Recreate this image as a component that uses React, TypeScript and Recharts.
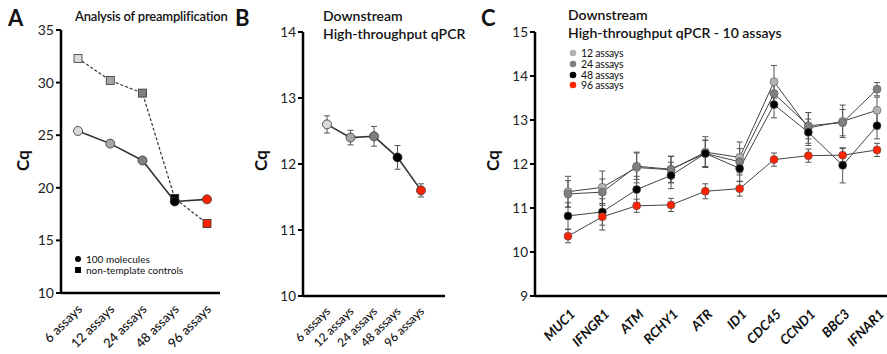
import React from 'react'
import { LineChart, Line, XAxis, YAxis, ErrorBar } from 'recharts'

// panel A + B categories
const assayCats = ['6 assays', '12 assays', '24 assays', '48 assays', '96 assays']
const assayColors = ['#d9d9d9', '#a6a6a6', '#7f7f7f', '#000000', '#ff2200']

// A: preamplification
const preampMolecules = [25.4, 24.2, 22.6, 18.7, 18.9]
const preampNtc = [32.3, 30.2, 29.0, 19.0, 16.6]
const ticksA = [10, 15, 20, 25, 30, 35]

// B: downstream
const downstreamCq = [12.6, 12.4, 12.42, 12.1, 11.6]
const downstreamErr = [0.13, 0.11, 0.15, 0.18, 0.1]
const ticksB = [10, 11, 12, 13, 14]

// C: 10 assays
const genes = ['MUC1', 'IFNGR1', 'ATM', 'RCHY1', 'ATR', 'ID1', 'CDC45', 'CCND1', 'BBC3', 'IFNAR1']
const cq12 = [11.37, 11.47, 11.92, 11.87, 12.27, 12.15, 13.87, 12.82, 12.97, 13.22]
const cq24 = [11.32, 11.36, 11.95, 11.88, 12.24, 12.05, 13.6, 12.87, 12.94, 13.7]
const cq48 = [10.82, 10.91, 11.42, 11.74, 12.24, 11.9, 13.35, 12.72, 11.97, 12.87]
const cq96 = [10.36, 10.8, 11.05, 11.07, 11.38, 11.44, 12.1, 12.19, 12.2, 12.32]
const err12 = [0.35, 0.37, 0.35, 0.3, 0.35, 0.35, 0.37, 0.35, 0.37, 0.3]
const err24 = [0.3, 0.3, 0.3, 0.3, 0.3, 0.3, 0.3, 0.3, 0.3, 0.15]
const err48 = [0.3, 0.3, 0.3, 0.3, 0.3, 0.3, 0.3, 0.3, 0.4, 0.3]
const err96 = [0.15, 0.3, 0.15, 0.15, 0.17, 0.17, 0.15, 0.15, 0.15, 0.15]
const ticksC = [9, 10, 11, 12, 13, 14, 15]
const seriesC = [
  { key: 'c12', err: 'e12', name: '12 assays', color: '#b3b3b3' },
  { key: 'c24', err: 'e24', name: '24 assays', color: '#808080' },
  { key: 'c48', err: 'e48', name: '48 assays', color: '#000000' },
  { key: 'c96', err: 'e96', name: '96 assays', color: '#ff2200' },
]

const dataA = assayCats.map((c, i) => ({ cat: c, mol: preampMolecules[i], ntc: preampNtc[i] }))
const dataB = assayCats.map((c, i) => ({ cat: c, cq: downstreamCq[i], err: downstreamErr[i] }))
const dataC = genes.map((g, i) => ({
  gene: g,
  c12: cq12[i], e12: err12[i],
  c24: cq24[i], e24: err24[i],
  c48: cq48[i], e48: err48[i],
  c96: cq96[i], e96: err96[i],
}))

const FONT = 'Lato, "Open Sans", sans-serif'
const axisLine = { stroke: '#000', strokeWidth: 2.5 }
const tickLine = { stroke: '#000', strokeWidth: 2 }

const RotTick = (dx: number, dy: number, size: number, italic = false) => (props: any) => {
  const { x, y, payload } = props
  return (
    <g transform={`translate(${x + dx},${y + dy})`}>
      <text
        x={0}
        y={0}
        textAnchor="end"
        transform="rotate(-45)"
        fontSize={size}
        fontFamily={FONT}
        fontStyle={italic ? 'italic' : 'normal'}
        fontWeight={italic ? 700 : 500}
        fill="#111"
      >
        {payload.value}
      </text>
    </g>
  )
}

const colorDot = (prefix: string) => (props: any) => (
  <circle
    key={`${prefix}-${props.index}`}
    cx={props.cx}
    cy={props.cy}
    r={4.5}
    fill={assayColors[props.index]}
    stroke="#333"
    strokeWidth={0.8}
  />
)

const squareDot = (props: any) => (
  <rect
    key={`sq-${props.index}`}
    x={props.cx - 4}
    y={props.cy - 4}
    width={8}
    height={8}
    fill={assayColors[props.index]}
    stroke="#333"
    strokeWidth={0.8}
  />
)

const abs = (left: number, top: number, extra: React.CSSProperties = {}): React.CSSProperties => ({
  position: 'absolute',
  left,
  top,
  fontFamily: FONT,
  color: '#111',
  whiteSpace: 'nowrap',
  ...extra,
})

const CqLabel = ({ left, top }: { left: number; top: number }) => (
  <div style={abs(left, top, { fontSize: 17, fontWeight: 700, transform: 'rotate(-90deg)', transformOrigin: 'center' })}>Cq</div>
)

export default function App() {
  return (
    <div style={{ position: 'absolute', left: 0, top: 0, width: 887, height: 354, background: '#fff', overflow: 'hidden' }}>
      {/* Panel A */}
      <div style={{ position: 'absolute', left: 0, top: 0 }}>
        <LineChart width={230} height={354} data={dataA} margin={{ top: 30, right: 10, bottom: 0, left: 0 }}>
          <XAxis
            dataKey="cat"
            axisLine={axisLine}
            tickLine={false}
            height={61}
            padding={{ left: 17, right: 13 }}
            interval={0}
            tick={RotTick(5, 9, 13)}
          />
          <YAxis
            domain={[10, 35]}
            ticks={ticksA}
            width={61}
            axisLine={axisLine}
            tickLine={tickLine}
            tickSize={5}
            tick={{ fontSize: 14, fill: '#222', fontFamily: FONT }}
          />
          <Line
            dataKey="ntc"
            stroke="#333"
            strokeWidth={1.2}
            strokeDasharray="3 2"
            dot={squareDot}
            activeDot={false}
            isAnimationActive={false}
          />
          <Line
            dataKey="mol"
            stroke="#333"
            strokeWidth={1.6}
            dot={colorDot('mol')}
            activeDot={false}
            isAnimationActive={false}
          />
        </LineChart>
      </div>

      {/* Panel B */}
      <div style={{ position: 'absolute', left: 240, top: 0 }}>
        <LineChart width={205} height={354} data={dataB} margin={{ top: 32, right: 0, bottom: 0, left: 0 }}>
          <XAxis
            dataKey="cat"
            axisLine={axisLine}
            tickLine={false}
            height={58}
            padding={{ left: 24, right: 24 }}
            interval={0}
            tick={RotTick(4, 8, 12)}
          />
          <YAxis
            domain={[10, 14]}
            ticks={ticksB}
            width={63}
            axisLine={axisLine}
            tickLine={tickLine}
            tickSize={5}
            tick={{ fontSize: 13.5, fill: '#222', fontFamily: FONT }}
          />
          <Line
            dataKey="cq"
            stroke="#333"
            strokeWidth={1.6}
            dot={colorDot('b')}
            activeDot={false}
            isAnimationActive={false}
          >
            <ErrorBar dataKey="err" direction="y" width={3} stroke="#555" strokeWidth={1} />
          </Line>
        </LineChart>
      </div>

      {/* Panel C */}
      <div style={{ position: 'absolute', left: 460, top: 0 }}>
        <LineChart width={427} height={354} data={dataC} margin={{ top: 32, right: 0, bottom: 0, left: 0 }}>
          <XAxis
            dataKey="gene"
            axisLine={axisLine}
            tickLine={false}
            height={58}
            padding={{ left: 33, right: 10 }}
            interval={0}
            tick={RotTick(8, 11, 13.5, true)}
          />
          <YAxis
            domain={[9, 15]}
            ticks={ticksC}
            width={75}
            axisLine={axisLine}
            tickLine={tickLine}
            tickSize={5}
            tick={{ fontSize: 13.5, fill: '#222', fontFamily: FONT }}
          />
          {seriesC.map((s) => (
            <Line
              key={s.key}
              dataKey={s.key}
              name={s.name}
              stroke="#444"
              strokeWidth={1}
              dot={{ r: 4, fill: s.color, stroke: '#555', strokeWidth: 0.6 }}
              activeDot={false}
              isAnimationActive={false}
            >
              <ErrorBar dataKey={s.err} direction="y" width={3} stroke="#555" strokeWidth={1} />
            </Line>
          ))}
        </LineChart>
      </div>

      {/* text overlays */}
      <div style={abs(8, 4, { fontSize: 22, fontWeight: 700 })}>A</div>
      <div style={abs(75, 8, { fontSize: 13, fontWeight: 600, letterSpacing: -0.2 })}>Analysis of preamplification</div>
      <CqLabel left={12} top={150} />
      <div style={abs(74, 254, { fontSize: 10, lineHeight: '11px' })}>
        <div><svg width={8} height={8} style={{ marginRight: 4 }}><circle cx={4} cy={4} r={3} fill="#000" /></svg>100 molecules</div>
        <div><svg width={8} height={8} style={{ marginRight: 4 }}><rect x={1} y={1} width={6} height={6} fill="#000" /></svg>non-template controls</div>
      </div>

      <div style={abs(235, 4, { fontSize: 22, fontWeight: 700 })}>B</div>
      <div style={abs(323, 7, { fontSize: 14, fontWeight: 600, lineHeight: '18px' })}>
        <div>Downstream</div>
        <div>High-throughput qPCR</div>
      </div>
      <CqLabel left={250} top={150} />

      <div style={abs(481, 4, { fontSize: 22, fontWeight: 700 })}>C</div>
      <div style={abs(568, 6, { fontSize: 14, fontWeight: 600, lineHeight: '18px' })}>
        <div>Downstream</div>
        <div>High-throughput qPCR - 10 assays</div>
      </div>
      <CqLabel left={482} top={150} />
      <div style={abs(569, 48, { fontSize: 10.5, lineHeight: '10.8px', letterSpacing: -0.2 })}>
        {seriesC.map((s) => (
          <div key={s.key}>
            <svg width={8} height={8} style={{ marginRight: 4 }}><circle cx={4} cy={4} r={3.3} fill={s.color} /></svg>
            {s.name}
          </div>
        ))}
      </div>
    </div>
  )
}
